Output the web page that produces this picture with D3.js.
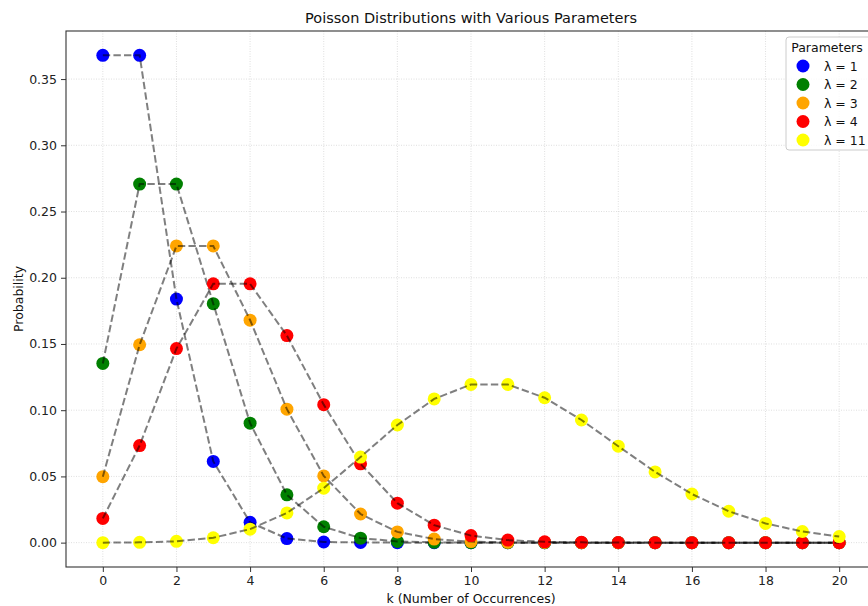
<!doctype html>
<html>
<head>
<meta charset="utf-8">
<title>Poisson Distributions</title>
<script src="https://cdnjs.cloudflare.com/ajax/libs/d3/7.8.5/d3.min.js"></script>
<style>
  body { margin: 0; background: #fff; overflow: hidden; }
  svg { font-family: "DejaVu Sans", sans-serif; display: block; }
</style>
</head>
<body>
<svg width="868" height="606"></svg>
<script>
// k values and pmf values
var ks = d3.range(0, 21);
var lambdas = [1, 2, 3, 4, 11];
var colors = ["blue", "green", "orange", "red", "yellow"];

var lam1 = [0.3679, 0.3679, 0.1839, 0.0613, 0.0153, 0.0031, 0.0005, 0.0001, 0.0000, 0.0000, 0.0000,
            0.0000, 0.0000, 0.0000, 0.0000, 0.0000, 0.0000, 0.0000, 0.0000, 0.0000, 0.0000];
var lam2 = [0.1353, 0.2707, 0.2707, 0.1804, 0.0902, 0.0361, 0.0120, 0.0034, 0.0009, 0.0002, 0.0000,
            0.0000, 0.0000, 0.0000, 0.0000, 0.0000, 0.0000, 0.0000, 0.0000, 0.0000, 0.0000];
var lam3 = [0.0498, 0.1494, 0.2240, 0.2240, 0.1680, 0.1008, 0.0504, 0.0216, 0.0081, 0.0027, 0.0008,
            0.0002, 0.0001, 0.0000, 0.0000, 0.0000, 0.0000, 0.0000, 0.0000, 0.0000, 0.0000];
var lam4 = [0.0183, 0.0733, 0.1465, 0.1954, 0.1954, 0.1563, 0.1042, 0.0595, 0.0298, 0.0132, 0.0053,
            0.0019, 0.0006, 0.0002, 0.0001, 0.0000, 0.0000, 0.0000, 0.0000, 0.0000, 0.0000];
var lam11 = [0.0000, 0.0002, 0.0010, 0.0037, 0.0102, 0.0224, 0.0411, 0.0646, 0.0888, 0.1085, 0.1194,
             0.1194, 0.1094, 0.0926, 0.0728, 0.0534, 0.0367, 0.0237, 0.0145, 0.0084, 0.0046];
var series = [lam1, lam2, lam3, lam4, lam11];

var xTicks = d3.range(0, 21, 2);
var yTicks = [0, 0.05, 0.10, 0.15, 0.20, 0.25, 0.30, 0.35];

var svg = d3.select("svg");
var pLeft = 66, pRight = 876, pTop = 31, pBottom = 567;

var x = d3.scaleLinear().domain([-1, 21]).range([pLeft, pRight]);
var yMax = 0.3679;
var y = d3.scaleLinear().domain([-yMax * 0.05, yMax * 1.05]).range([pBottom, pTop]);

// grid
var grid = svg.append("g");
grid.selectAll(".gx").data(xTicks).enter().append("line")
    .attr("x1", function (d) { return x(d); }).attr("x2", function (d) { return x(d); })
    .attr("y1", pTop).attr("y2", pBottom)
    .attr("stroke", "#b0b0b0").attr("stroke-opacity", 0.5)
    .attr("stroke-dasharray", "1,1.5").attr("stroke-width", 0.8);
grid.selectAll(".gy").data(yTicks).enter().append("line")
    .attr("y1", function (d) { return y(d); }).attr("y2", function (d) { return y(d); })
    .attr("x1", pLeft).attr("x2", pRight)
    .attr("stroke", "#b0b0b0").attr("stroke-opacity", 0.5)
    .attr("stroke-dasharray", "1,1.5").attr("stroke-width", 0.8);

// series: dots then dashed line
var line = d3.line()
    .x(function (d, i) { return x(ks[i]); })
    .y(function (d) { return y(d); });

series.forEach(function (vals, s) {
    svg.append("g").selectAll("circle").data(vals).enter().append("circle")
        .attr("cx", function (d, i) { return x(ks[i]); })
        .attr("cy", function (d) { return y(d); })
        .attr("r", 6.5)
        .attr("fill", colors[s]);
    svg.append("path").datum(vals)
        .attr("d", line)
        .attr("fill", "none")
        .attr("stroke", "black")
        .attr("stroke-opacity", 0.5)
        .attr("stroke-width", 2)
        .attr("stroke-dasharray", "7.4,3.2");
});

// axes
var xAxis = svg.append("g")
    .attr("transform", "translate(0," + pBottom + ")")
    .call(d3.axisBottom(x).tickValues(xTicks).tickFormat(d3.format("d")).tickSize(5).tickPadding(4));
var yAxis = svg.append("g")
    .attr("transform", "translate(" + pLeft + ",0)")
    .call(d3.axisLeft(y).tickValues(yTicks).tickFormat(d3.format(".2f")).tickSize(5).tickPadding(4));
[xAxis, yAxis].forEach(function (a) {
    a.select(".domain").remove();
    a.selectAll("text").attr("font-size", 12.5).attr("fill", "#222").attr("font-family", "DejaVu Sans");
    a.selectAll(".tick line").attr("stroke", "#333");
});

// frame
svg.append("rect")
    .attr("x", pLeft).attr("y", pTop)
    .attr("width", pRight - pLeft).attr("height", pBottom - pTop)
    .attr("fill", "none").attr("stroke", "#333").attr("stroke-width", 1.1);

// labels
svg.append("text").attr("x", (pLeft + pRight) / 2).attr("y", 23)
    .attr("text-anchor", "middle").attr("font-size", 14.5).attr("fill", "#111")
    .text("Poisson Distributions with Various Parameters");
svg.append("text").attr("x", (pLeft + pRight) / 2).attr("y", 603)
    .attr("text-anchor", "middle").attr("font-size", 12.5).attr("fill", "#111")
    .text("k (Number of Occurrences)");
svg.append("text").attr("transform", "translate(23," + ((pTop + pBottom) / 2) + ") rotate(-90)")
    .attr("text-anchor", "middle").attr("font-size", 12.5).attr("fill", "#111")
    .text("Probability");

// legend
var lg = svg.append("g").attr("transform", "translate(786,37)");
lg.append("rect").attr("width", 90).attr("height", 113).attr("rx", 3)
    .attr("fill", "white").attr("fill-opacity", 0.8)
    .attr("stroke", "#ccc").attr("stroke-width", 1);
lg.append("text").attr("x", 41).attr("y", 15).attr("text-anchor", "middle")
    .attr("font-size", 12.5).attr("fill", "#111").text("Parameters");
var items = lg.selectAll(".item").data(lambdas).enter().append("g")
    .attr("transform", function (d, i) { return "translate(0," + (29 + i * 18.5) + ")"; });
items.append("circle").attr("cx", 17).attr("cy", 0).attr("r", 6.5)
    .attr("fill", function (d, i) { return colors[i]; });
items.append("text").attr("x", 38).attr("y", 4.5).attr("font-size", 12.5).attr("fill", "#111")
    .text(function (d) { return "λ = " + d; });
</script>
</body>
</html>
